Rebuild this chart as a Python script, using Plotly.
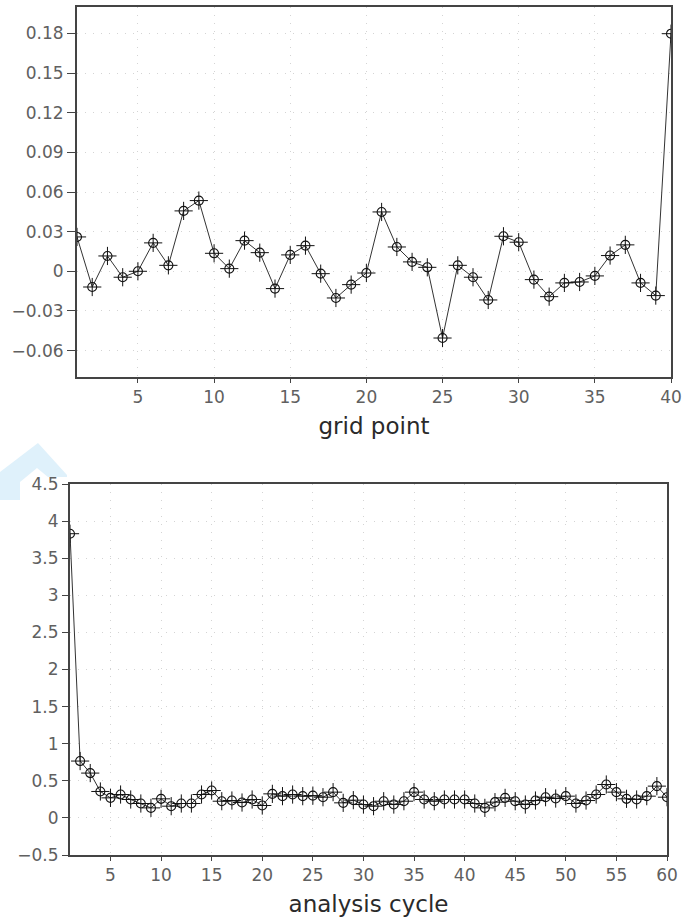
import plotly.graph_objects as go

W, H = 682, 920

# ---- data ----
grid_point = list(range(1, 41))
grid_values = [0.026, -0.0119, 0.0116, -0.0045, 0.0, 0.0215, 0.0045, 0.0457, 0.0535, 0.0136,
               0.002, 0.0232, 0.0141, -0.0131, 0.0124, 0.0194, -0.0018, -0.0202, -0.0101, -0.0013,
               0.0449, 0.0184, 0.0071, 0.003, -0.0505, 0.0045, -0.0045, -0.0217, 0.0265, 0.022,
               -0.0063, -0.0192, -0.0088, -0.0081, -0.0035, 0.0119, 0.02, -0.0088, -0.0184, 0.1798]

analysis_cycle = list(range(1, 61))
cycle_values = [3.83, 0.766, 0.604, 0.356, 0.27, 0.315, 0.248, 0.194, 0.135, 0.257,
                0.158, 0.194, 0.194, 0.315, 0.369, 0.225, 0.234, 0.207, 0.248, 0.167,
                0.324, 0.293, 0.315, 0.293, 0.30, 0.279, 0.347, 0.203, 0.239, 0.18,
                0.158, 0.225, 0.18, 0.225, 0.347, 0.248, 0.225, 0.248, 0.248, 0.248,
                0.194, 0.135, 0.212, 0.27, 0.225, 0.18, 0.234, 0.279, 0.261, 0.293,
                0.194, 0.234, 0.315, 0.45, 0.347, 0.257, 0.248, 0.293, 0.428, 0.279]

top_yticks = [-0.06, -0.03, 0, 0.03, 0.06, 0.09, 0.12, 0.15, 0.18]
top_yticktext = ["\u22120.06", "\u22120.03", "0", "0.03", "0.06", "0.09", "0.12", "0.15", "0.18"]
top_xticks = [5, 10, 15, 20, 25, 30, 35, 40]

bot_yticks = [-0.5, 0, 0.5, 1, 1.5, 2, 2.5, 3, 3.5, 4, 4.5]
bot_yticktext = ["\u22120.5", "0", "0.5", "1", "1.5", "2", "2.5", "3", "3.5", "4", "4.5"]
bot_xticks = [5, 10, 15, 20, 25, 30, 35, 40, 45, 50, 55, 60]

LINE = "#333333"
FONT = "DejaVu Sans"
TICKC = "#606060"


def px_x(x):
    return x / W


def px_y(y):
    return 1 - y / H


fig = go.Figure()

for xs, ys, xa, ya in [(grid_point, grid_values, "x", "y"), (analysis_cycle, cycle_values, "x2", "y2")]:
    fig.add_trace(go.Scatter(x=xs, y=ys, xaxis=xa, yaxis=ya, mode="lines+markers",
                             line=dict(color=LINE, width=1),
                             marker=dict(symbol="circle-open", size=9, color="#111111",
                                         line=dict(width=1.1, color="#111111")),
                             showlegend=False, hoverinfo="x+y"))
    fig.add_trace(go.Scatter(x=xs, y=ys, xaxis=xa, yaxis=ya, mode="markers",
                             marker=dict(symbol="cross-thin-open", size=13, color="#111111",
                                         line=dict(width=1, color="#111111")),
                             showlegend=False, hoverinfo="skip"))

axis_common = dict(showline=True, linecolor="#444444", linewidth=2, mirror=True,
                   showgrid=True, gridcolor="#d4d4d4", griddash="1px,7px", gridwidth=1,
                   zeroline=False, ticks="outside", tickcolor="#444444", automargin=False,
                   tickfont=dict(family=FONT, size=17, color=TICKC))
title_font = dict(family=FONT, size=23, color="#2a2a2a")

fig.update_layout(
    width=W, height=H,
    margin=dict(l=0, r=0, t=0, b=0),
    paper_bgcolor="white", plot_bgcolor="white",
    xaxis=dict(domain=[px_x(77), px_x(671)], anchor="y", range=[1, 40],
               tickvals=top_xticks, ticklen=4,
               title=dict(text="grid point", font=title_font, standoff=11),
               **axis_common),
    yaxis=dict(domain=[px_y(377), px_y(7)], anchor="x", range=[-0.08, 0.2],
               tickvals=top_yticks, ticktext=top_yticktext, ticklen=8,
               **axis_common),
    xaxis2=dict(domain=[px_x(70), px_x(667)], anchor="y2", range=[1, 60],
                tickvals=bot_xticks, ticklen=4,
                title=dict(text="analysis cycle", font=title_font, standoff=11),
                **axis_common),
    yaxis2=dict(domain=[px_y(855), px_y(484)], anchor="x2", range=[-0.5, 4.5],
                tickvals=bot_yticks, ticktext=bot_yticktext, ticklen=6,
                **axis_common),
)

# faint watermark chevron at left between the panels
pts = [(0, 472), (38, 443), (67, 475), (67, 477), (48, 477), (37, 468), (20, 482), (20, 500), (0, 500)]
path = "M " + " L ".join(f"{px_x(x):.5f},{px_y(y):.5f}" for x, y in pts) + " Z"
fig.add_shape(type="path", path=path, xref="paper", yref="paper",
              fillcolor="#dff1fb", line=dict(width=0), layer="below")

fig.write_html("out.html", config={"displayModeBar": False},
               post_script="document.body.style.margin='0';document.body.style.overflow='hidden';")
